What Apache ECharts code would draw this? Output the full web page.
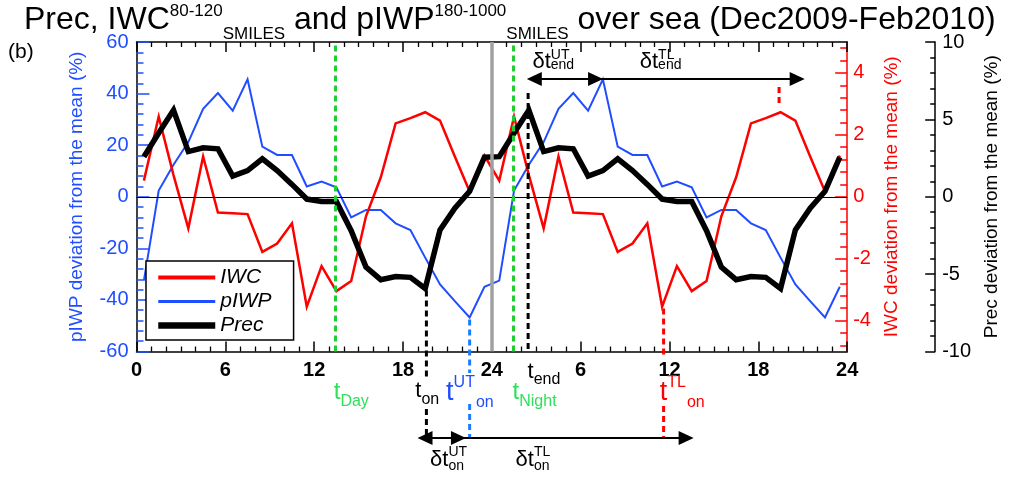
<!DOCTYPE html>
<html><head><meta charset="utf-8">
<script src="https://cdn.jsdelivr.net/npm/echarts@6/dist/echarts.min.js"></script>
<style>html,body{margin:0;padding:0;background:#fff}#c{width:1009px;height:481px}</style>
</head><body><div id="c"></div>
<script>
// ---------------- data (hours = local time, two repeated days) ----------------
const hours = [0.5,1.5,2.5,3.5,4.5,5.5,6.5,7.5,8.5,9.5,10.5,11.5,12.5,13.5,14.5,15.5,16.5,17.5,18.5,19.5,20.5,21.5,22.5,23.5,
               24.5,25.5,26.5,27.5,28.5,29.5,30.5,31.5,32.5,33.5,34.5,35.5,36.5,37.5,38.5,39.5,40.5,41.5,42.5,43.5,44.5,45.5,46.5,47.5];
const iwc  = [0.52,2.59,0.70,-1.02,1.30,-0.51,-0.53,-0.56,-1.78,-1.51,-0.86,-3.55,-2.24,-3.05,-2.72,-0.63,0.63,2.37,2.54,2.73,2.46,1.30,0.17,1.33,
              0.52,2.59,0.70,-1.02,1.30,-0.51,-0.53,-0.56,-1.78,-1.51,-0.86,-3.55,-2.24,-3.05,-2.72,-0.63,0.63,2.37,2.54,2.73,2.46,1.30,0.17,1.33];
const piwp = [-32.5,2.4,12.4,21.2,34.1,40.2,33.4,45.5,19.4,16.2,16.2,4.0,5.9,3.7,-8.0,-5.1,-5.1,-10.3,-12.9,-23.6,-34.0,-40.5,-46.8,-34.9,
              -32.5,2.4,12.4,21.2,34.1,40.2,33.4,45.5,19.4,16.2,16.2,4.0,5.9,3.7,-8.0,-5.1,-5.1,-10.3,-12.9,-23.6,-34.0,-40.5,-46.8,-34.9];
const prec = [2.59,4.12,5.60,2.92,3.16,3.10,1.33,1.69,2.45,1.69,0.80,-0.15,-0.30,-0.30,-2.19,-4.54,-5.36,-5.15,-5.21,-5.93,-2.14,-0.74,0.35,2.56,
              2.59,4.12,5.60,2.92,3.16,3.10,1.33,1.69,2.45,1.69,0.80,-0.15,-0.30,-0.30,-2.19,-4.54,-5.36,-5.15,-5.21,-5.93,-2.14,-0.74,0.35,2.56];
const legendNames = ['IWC','pIWP','Prec'];
const iwcMajorTicks = [-4,-2,0,2,4];
const iwcMinorTicks = [-4.8,-4.4,-3.6,-3.2,-2.8,-2.4,-1.6,-1.2,-0.8,-0.4,0.4,0.8,1.2,1.6,2.4,2.8,3.2,3.6,4.4,4.8];
// key times (hours) used by the annotations
const tDay = 13.45, tNight = 25.45, tOn = 19.58, tOnUT = 22.5, tOnTL = 35.6, tEnd = 26.45, tEndTL = 43.4, midnight = 24;

// ---------------- styling ----------------
const F = '"Liberation Sans", Arial, Helvetica, sans-serif';
const RED = '#ff0000', BLUE = '#1f4dff', GREEN = '#22cc33', GREENTXT = '#2ee05a', LBLUE = '#1a7dff';

const chart = echarts.init(document.getElementById('c'), null, {renderer: 'canvas'});
const xFmt = v => (v > 0 && v % 24 === 0) ? '24' : String(v % 24);
function xAxis(pos, labels) {
  return {type: 'value', position: pos, min: 0, max: 48, interval: 6,
    axisLine: {show: true, onZero: false, lineStyle: {color: '#000', width: 1.5}},
    axisTick: {show: true, inside: true, length: 10, lineStyle: {color: '#000', width: 1.5}},
    minorTick: {show: true, splitNumber: 6, length: 5, lineStyle: {color: '#000', width: 1.3}},
    axisLabel: {show: labels, fontSize: 20, fontWeight: 'bold', color: '#000', fontFamily: F, margin: 9,
      showMinLabel: true, showMaxLabel: true, formatter: xFmt},
    splitLine: {show: false}};
}
const option = {
  animation: false,
  backgroundColor: '#fff',
  title: {
    text: '{m|Prec, IWC}{sp|80-120}{sb|SMILES}{m| and pIWP}{sp|180-1000}{sb|SMILES}{m| over sea (Dec2009-Feb2010)}',
    left: 24, top: 0, padding: 0,
    textStyle: {fontWeight: 'normal', rich: {
      m: {fontSize: 32, fontFamily: F, fontWeight: 'normal', color: '#000', lineHeight: 40},
      sp: {fontSize: 17, fontFamily: F, fontWeight: 'normal', color: '#000', lineHeight: 24, verticalAlign: 'top', padding: [3, 0, 0, 0]},
      sb: {fontSize: 17, fontFamily: F, fontWeight: 'normal', color: '#000', lineHeight: 12, verticalAlign: 'top', padding: [26, 0, 0, 0]}
    }}
  },
  grid: {left: 136.5, right: 157, top: 42, bottom: 129.5, containLabel: false},
  legend: {
    data: [
      {name: legendNames[0], lineStyle: {width: 4}},
      {name: legendNames[1], lineStyle: {width: 3}},
      {name: legendNames[2], lineStyle: {width: 6.5}}
    ],
    orient: 'vertical', left: 146, top: 261, padding: [6, 22, 4, 9],
    itemWidth: 57, itemHeight: 22, itemGap: 3,
    itemStyle: {color: 'rgba(0,0,0,0)', borderWidth: 0, opacity: 0},
    borderColor: '#000', borderWidth: 1.5, backgroundColor: '#fff',
    textStyle: {fontSize: 21, fontStyle: 'italic', fontFamily: F, color: '#000'},
    selectedMode: false, z: 20
  },
  xAxis: [xAxis('bottom', true), xAxis('top', false)],
  yAxis: [
    {type: 'value', position: 'left', min: -60, max: 60, interval: 20,
      axisLine: {show: true, onZero: false, lineStyle: {color: '#000', width: 1.5}},
      axisTick: {show: true, inside: true, length: 13, lineStyle: {color: BLUE, width: 1.5}},
      minorTick: {show: true, splitNumber: 5, length: 7, lineStyle: {color: BLUE, width: 1.5}},
      axisLabel: {color: BLUE, fontSize: 20, fontFamily: F, margin: 8},
      splitLine: {show: false},
      name: 'pIWP deviation from the mean (%)', nameLocation: 'middle', nameRotate: 90, nameGap: 50,
      nameTextStyle: {color: BLUE, fontSize: 19, fontFamily: F}},
    {type: 'value', position: 'right', offset: 0, min: -5, max: 5,
      axisLine: {show: true, onZero: false, lineStyle: {color: RED, width: 1.5}},
      axisTick: {show: true, inside: true, length: 12, customValues: iwcMajorTicks, lineStyle: {color: RED, width: 1.5}},
      axisLabel: {color: RED, fontSize: 20, fontFamily: F, margin: 6, customValues: iwcMajorTicks},
      splitLine: {show: false},
      name: 'IWC deviation from the mean (%)', nameLocation: 'middle', nameRotate: 90, nameGap: 24,
      nameTextStyle: {color: RED, fontSize: 19, fontFamily: F}},
    {type: 'value', position: 'right', offset: 88, min: -10, max: 10, interval: 5,
      axisLine: {show: true, onZero: false, lineStyle: {color: '#000', width: 1.5}},
      axisTick: {show: true, inside: true, length: 10, lineStyle: {color: '#000', width: 1.5}},
      minorTick: {show: true, splitNumber: 5, length: 5, lineStyle: {color: '#000', width: 1.5}},
      axisLabel: {color: '#000', fontSize: 20, fontFamily: F, margin: 7, showMinLabel: true, showMaxLabel: true},
      splitLine: {show: false},
      name: 'Prec deviation from the mean (%)', nameLocation: 'middle', nameRotate: 90, nameGap: 42,
      nameTextStyle: {color: '#000', fontSize: 19, fontFamily: F}},
    {type: 'value', position: 'right', offset: 0, min: -5, max: 5,
      axisLine: {show: false, onZero: false},
      axisTick: {show: true, inside: true, length: 7, customValues: iwcMinorTicks, lineStyle: {color: RED, width: 1.5}},
      axisLabel: {show: false}, splitLine: {show: false}}
  ],
  series: [
    {name: 'pIWP', type: 'line', xAxisIndex: 0, yAxisIndex: 0, z: 2, symbol: 'none',
      data: hours.map((h, i) => [h, piwp[i]]),
      lineStyle: {color: BLUE, width: 2, join: 'miter'}, itemStyle: {color: BLUE},
      markLine: {silent: true, symbol: 'none', label: {show: false}, animation: false,
        data: [
          {yAxis: 0, lineStyle: {color: '#000', width: 1, type: 'solid'}},
          {xAxis: midnight, lineStyle: {color: '#a0a0a0', width: 3.5, type: 'solid'}},
          {xAxis: tDay, lineStyle: {color: GREEN, width: 3, type: [6, 4]}},
          {xAxis: tNight, lineStyle: {color: GREEN, width: 3, type: [6, 4]}}
        ]}},
    {name: 'IWC', type: 'line', xAxisIndex: 0, yAxisIndex: 1, z: 3, symbol: 'none',
      data: hours.map((h, i) => [h, iwc[i]]),
      lineStyle: {color: RED, width: 2.5, join: 'miter'}, itemStyle: {color: RED}},
    {name: 'Prec', type: 'line', xAxisIndex: 0, yAxisIndex: 2, z: 4, symbol: 'none',
      data: hours.map((h, i) => [h, prec[i]]),
      lineStyle: {color: '#000', width: 5.5, join: 'miter'}, itemStyle: {color: '#000'}}
  ]
};
chart.setOption(option);

// ---------------- annotations (positions through the axes) ----------------
const ctx = document.createElement('canvas').getContext('2d');
function tw(t, size) { ctx.font = size + 'px ' + F; return ctx.measureText(t).width; }
const px = h => chart.convertToPixel({xAxisIndex: 0}, h);
const py = (axis, v) => chart.convertToPixel({yAxisIndex: axis}, v);
const plotBottom = py(0, -60), plotTop = py(0, 60);
const G = [];
function txt(x, y, t, size, color) {
  G.push({type: 'text', x: x, y: y, silent: true, z: 30,
    style: {text: t, fontSize: size, fontFamily: F, fill: color, align: 'left', verticalAlign: 'middle'}});
}
// symbol with optional super/subscript; stacked = sup and sub share the same x
function sym(h, y, main, sup, sub, color, ms, ss, stacked, dSup, dSub) {
  const x0 = px(h);
  txt(x0, y, main, ms, color);
  let x = x0 + tw(main, ms);
  if (sup) txt(x, y + dSup, sup, ss, color);
  if (sub) txt(stacked || !sup ? x : x + tw(sup, ss) + 1, y + dSub, sub, ss, color);
}
function vdash(h, y1, y2, color) {
  G.push({type: 'line', silent: true, z: 25, shape: {x1: px(h), y1: y1, x2: px(h), y2: y2},
    style: {stroke: color, lineWidth: 3, lineDash: [6, 4]}});
}
function arrowHead(xTip, y, dir) {
  G.push({type: 'polygon', silent: true, z: 26,
    shape: {points: [[xTip, y], [xTip - dir * 15, y - 7], [xTip - dir * 15, y + 7]]}, style: {fill: '#000'}});
}
function hline(x1, x2, y) {
  G.push({type: 'line', silent: true, z: 26, shape: {x1: x1, y1: y, x2: x2, y2: y}, style: {stroke: '#000', lineWidth: 2}});
}
// vertical dashed markers
vdash(tOn, py(2, prec[19]) + 2, 377, '#000');  vdash(tOn, 409, 438, '#000');
vdash(tOnUT, py(0, piwp[22]) + 2, 373, LBLUE); vdash(tOnUT, 404, 438, LBLUE);
vdash(tOnTL, py(1, iwc[35]) + 2, 358, RED);     vdash(tOnTL, 406, 438, RED);
vdash(tEnd, 93, plotBottom, '#000');
vdash(tEndTL, 87, py(1, iwc[43]) - 6, RED);
// labels under the axis
sym(13.32, 392, 't', null, 'Day', GREENTXT, 24, 16, false, 0, 10);
sym(18.83, 391, 't', null, 'on', '#000', 22, 16, false, 0, 9);
sym(20.91, 393, 't', 'UT', 'on', BLUE, 27, 16, false, -10, 10);
sym(26.41, 372, 't', null, 'end', '#000', 22, 16, false, 0, 8);
sym(25.40, 392, 't', null, 'Night', GREENTXT, 24, 16, false, 0, 10);
sym(35.34, 393, 't', 'TL', 'on', RED, 27, 16, false, -10, 10);
// delta-t labels
sym(19.83, 460, 'δt', 'UT', 'on', '#000', 22, 14, true, -8, 6);
sym(25.60, 460, 'δt', 'TL', 'on', '#000', 22, 14, true, -8, 6);
sym(26.74, 62, 'δt', 'UT', 'end', '#000', 22, 14, true, -7, 3);
sym(33.99, 62, 'δt', 'TL', 'end', '#000', 22, 14, true, -7, 3);
// arrows (bottom: onset, top: end)
const bY = 438, tY = 79;
hline(px(18.98) + 10, px(37.63) - 10, bY);
arrowHead(px(18.98), bY, -1); arrowHead(px(22.25), bY, 1); arrowHead(px(37.63), bY, 1);
hline(px(26.36) + 10, px(45.13) - 10, tY);
arrowHead(px(26.36), tY, -1); arrowHead(px(31.51), tY, 1); arrowHead(px(45.13), tY, 1);
// panel tag
G.push({type: 'text', x: 8, y: 52, silent: true, style: {text: '(b)', fontSize: 21, fontFamily: F, fill: '#000', verticalAlign: 'middle'}});
chart.setOption({graphic: G});
</script></body></html>
